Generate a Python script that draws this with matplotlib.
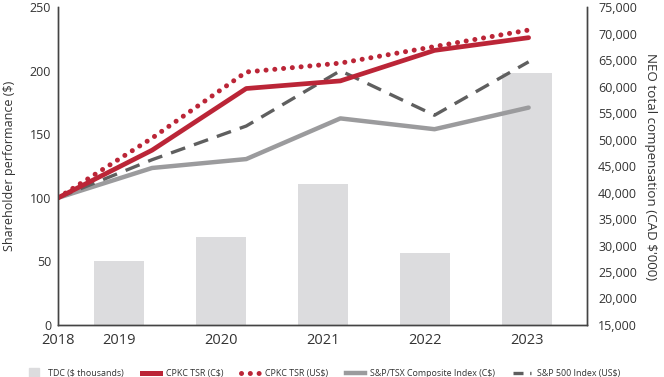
import numpy as np
import matplotlib.pyplot as plt
from matplotlib.lines import Line2D

plt.rcParams['font.family'] = ['Open Sans', 'DejaVu Sans']

years = ["2018", "2019", "2020", "2021", "2022", "2023"]
bar_years = ["2019", "2020", "2021", "2022", "2023"]
tdc = [27100, 31600, 41600, 28600, 62500]
cpkc_cad = [100, 137.5, 186, 192, 216, 226]
cpkc_usd = [100, 147, 199, 206, 219, 232]
tsx = [100, 123.5, 130.5, 162.5, 154, 171]
sp500 = [100, 130, 156.5, 200, 165, 207]

red = "#bb2537"
grey_line = "#9b9b9d"
dash_grey = "#5f5f5f"
bar_grey = "#dcdcde"
text_col = "#333333"

fig = plt.figure(figsize=(6.64, 3.77), dpi=100)
ax = fig.add_axes([0.0873, 0.138, 0.7967, 0.843])
ax2 = ax.twinx()

xl = np.arange(len(years))
xb = np.linspace(0.648, 4.98, len(bar_years))

ax2.bar(xb, tdc, width=0.53, color=bar_grey, zorder=1)
ax2.set_ylim(15000, 75000)
ax2.set_yticks(np.arange(15000, 75001, 5000))
ax2.set_yticklabels([f"{v:,}" for v in range(15000, 75001, 5000)])

ax.set_zorder(ax2.get_zorder() + 1)
ax.patch.set_visible(False)

ax.plot(xl, tsx, color=grey_line, lw=3.2, solid_capstyle="round")
ax.plot(xl, sp500, color=dash_grey, lw=2.4, dashes=(4.5, 2.8))
ax.plot(xl, cpkc_cad, color=red, lw=3.4, solid_capstyle="round")
ax.plot(xl, cpkc_usd, color=red, lw=3.6, linestyle=(0, (0.01, 1.75)),
        dash_capstyle="round")

ax.set_ylim(0, 250)
ax.set_yticks(range(0, 251, 50))
ax.set_xlim(0, 5.62)
ax.set_xticks(np.concatenate([[0], xb]))
ax.set_xticklabels(years)

for a in (ax, ax2):
    a.spines["top"].set_visible(False)
    for s in a.spines.values():
        s.set_color("#444444")
        s.set_linewidth(1.0)
    a.tick_params(length=0, labelsize=9, colors=text_col, pad=5)
ax2.tick_params(pad=8)
ax.tick_params(axis="x", labelsize=10.5, pad=6)

ax.set_ylabel("Shareholder performance ($)", fontsize=9, color=text_col, labelpad=10)
ax2.set_ylabel("NEO total compensation (CAD $'000)", fontsize=9.6, color=text_col,
               rotation=270, labelpad=14)

handles = [
    Line2D([], [], marker="s", color=bar_grey, linestyle="none", markersize=7),
    Line2D([], [], color=red, lw=3.6),
    Line2D([], [], color=red, lw=3.6, linestyle=(0, (0.01, 1.75)), dash_capstyle="round"),
    Line2D([], [], color=grey_line, lw=3.2),
    Line2D([], [], color=dash_grey, lw=2.4, dashes=(3, 2)),
]
labels = ["TDC ($ thousands)", "CPKC TSR (C$)", "CPKC TSR (US$)",
          "S&P/TSX Composite Index (C$)", "S&P 500 Index (US$)"]
fig.legend(handles, labels, loc="lower center", bbox_to_anchor=(0.485, -0.025), ncol=5,
           frameon=False, fontsize=6.4, handlelength=2.1, columnspacing=2.0,
           handletextpad=0.6, labelcolor=text_col)

fig.savefig("out.png", dpi=100)
